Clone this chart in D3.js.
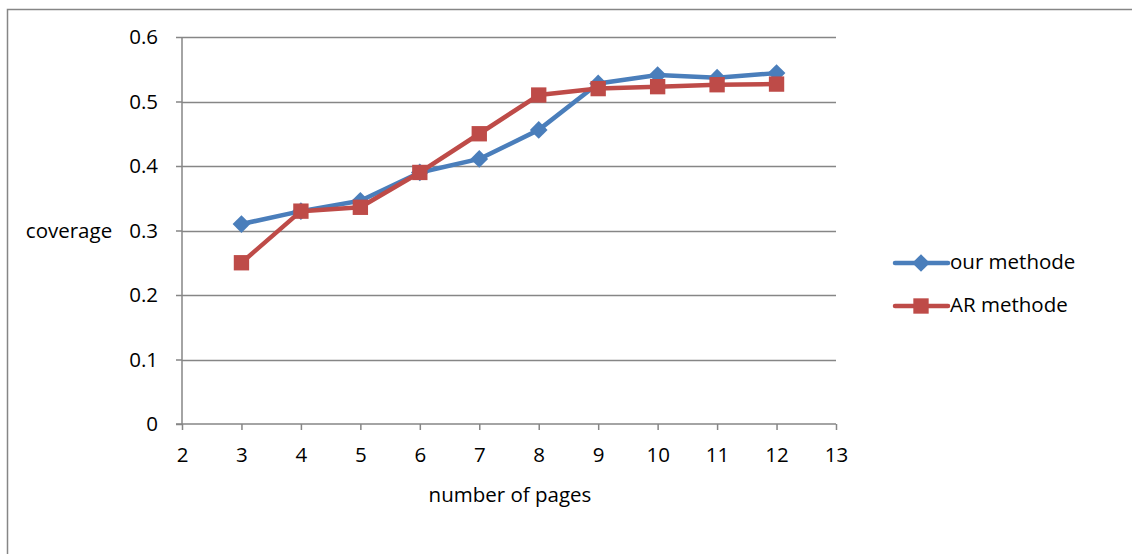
<!DOCTYPE html>
<html>
<head>
<meta charset="utf-8">
<script src="https://cdn.jsdelivr.net/npm/d3@7"></script>
<style>
  html, body { margin: 0; padding: 0; background: #fff; }
  svg { display: block; font-family: "Open Sans", Lato, sans-serif; }
</style>
</head>
<body>
<svg id="chart" width="1132" height="554"></svg>
<script>
// Page counts on the x axis
const pages = [3, 4, 5, 6, 7, 8, 9, 10, 11, 12];
// Coverage for each method
const ourMethode = [0.310, 0.330, 0.346, 0.390, 0.411, 0.456, 0.528, 0.541, 0.537, 0.544];
const arMethode  = [0.250, 0.330, 0.336, 0.390, 0.450, 0.510, 0.520, 0.523, 0.526, 0.527];
const xTicks = [2, 3, 4, 5, 6, 7, 8, 9, 10, 11, 12, 13];
const yTicks = [0, 0.1, 0.2, 0.3, 0.4, 0.5, 0.6];
const seriesNames = ["our methode", "AR methode"];

const svg = d3.select("#chart");
const grey = "#868686";
const blue = "#4A7EBB";
const red = "#BE4B48";
const FONT = "'Open Sans', Lato, sans-serif";
const FS = "20.5px";

// outer frame
svg.append("path")
  .attr("d", "M7.5,560 V9.5 H1140")
  .attr("fill", "none").attr("stroke", grey).attr("stroke-width", 1.5);

const x = d3.scaleLinear().domain([2, 13]).range([182, 836]);
const y = d3.scaleLinear().domain([0, 0.6]).range([424, 37]);

// horizontal gridlines
svg.append("g").selectAll("line").data(yTicks.slice(1)).join("line")
  .attr("x1", x(2)).attr("x2", x(13))
  .attr("y1", d => Math.round(y(d)) + 0.5).attr("y2", d => Math.round(y(d)) + 0.5)
  .attr("stroke", grey).attr("stroke-width", 1.5);

// y axis
const yAxis = svg.append("g")
  .attr("transform", `translate(${x(2)},0)`)
  .call(d3.axisLeft(y).tickValues(yTicks).tickSize(6).tickPadding(18)
    .tickFormat(d => d === 0 ? "0" : d3.format(".1f")(d)));
yAxis.select(".domain").attr("stroke", grey).attr("stroke-width", 1.5).attr("d", `M0,${y(0.6)}V${y(0)}`);
yAxis.selectAll(".tick line").attr("stroke", grey).attr("stroke-width", 1.5);
yAxis.selectAll(".tick text").attr("fill", "#000").style("font-size", FS).style("font-family", FONT);

// x axis
const xAxis = svg.append("g")
  .attr("transform", `translate(0,${y(0)})`)
  .call(d3.axisBottom(x).tickValues(xTicks).tickSize(6).tickPadding(17)
    .tickFormat(d3.format("d")));
xAxis.select(".domain").attr("stroke", grey).attr("stroke-width", 1.5).attr("d", `M${x(2) - 6},0H${x(13)}`);
xAxis.selectAll(".tick line").attr("stroke", grey).attr("stroke-width", 1.5);
xAxis.selectAll(".tick text").attr("fill", "#000").style("font-size", FS).style("font-family", FONT);

// axis titles
svg.append("text").attr("x", 510).attr("y", 502).attr("text-anchor", "middle")
  .style("font-size", FS).style("font-family", FONT).text("number of pages");
svg.append("text").attr("x", 69).attr("y", 238).attr("text-anchor", "middle")
  .style("font-size", FS).style("font-family", FONT).text("coverage");

const line = d3.line().x(d => x(d[0])).y(d => y(d[1]));
const diamond = d3.symbol().type(d3.symbolDiamond2).size(200);
const square = d3.symbol().type(d3.symbolSquare2).size(300);

function drawSeries(values, color, sym) {
  const pts = pages.map((p, i) => [p, values[i]]);
  const g = svg.append("g");
  g.append("path").attr("d", line(pts)).attr("fill", "none")
    .attr("stroke", color).attr("stroke-width", 4.5).attr("stroke-linejoin", "round");
  g.selectAll("path.m").data(pts).join("path").attr("class", "m")
    .attr("transform", d => `translate(${x(d[0])},${y(d[1])})`)
    .attr("d", sym()).attr("fill", color);
}
drawSeries(ourMethode, blue, diamond);
drawSeries(arMethode, red, square);

// legend
const legend = svg.append("g");
const items = [
  { name: seriesNames[0], color: blue, sym: diamond, yy: 263 },
  { name: seriesNames[1], color: red, sym: square, yy: 306 }
];
items.forEach(it => {
  legend.append("line").attr("x1", 895).attr("x2", 948).attr("y1", it.yy).attr("y2", it.yy)
    .attr("stroke", it.color).attr("stroke-width", 4.5).attr("stroke-linecap", "round");
  legend.append("path").attr("transform", `translate(921,${it.yy})`).attr("d", it.sym()).attr("fill", it.color);
  legend.append("text").attr("x", 950).attr("y", it.yy + 6).style("font-size", FS)
    .style("font-family", FONT).text(it.name);
});
</script>
</body>
</html>
